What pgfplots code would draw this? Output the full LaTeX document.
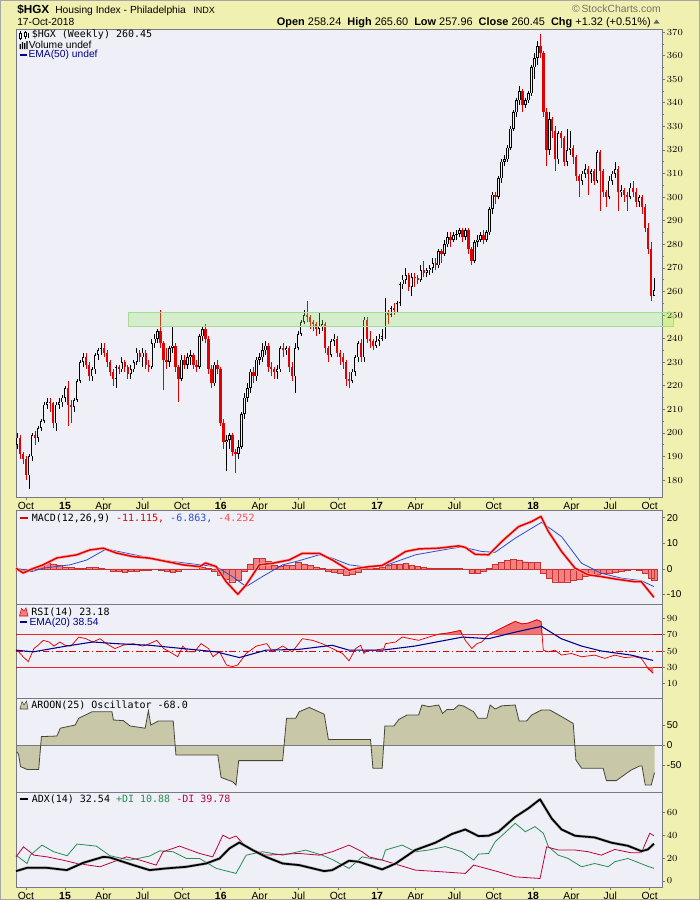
\documentclass[border=0pt]{standalone}
\usepackage{pgfplots}
\pgfplotsset{compat=1.18}
\usepackage{pgfplotstable}
\usepackage{fontspec}
\setmainfont{Liberation Sans}
\newfontfamily\monof{DejaVu Sans Mono}

\definecolor{bgy}{RGB}{240,240,176}
\definecolor{plotbg}{RGB}{239,239,247}
\definecolor{axg}{RGB}{120,120,130}
\definecolor{cred}{RGB}{226,0,0}
\definecolor{zonef}{RGB}{140,235,83}
\definecolor{zoned}{RGB}{165,220,145}
\definecolor{macdblue}{RGB}{40,80,210}
\definecolor{histf}{RGB}{242,130,130}
\definecolor{histd}{RGB}{200,50,50}
\definecolor{rsif}{RGB}{240,115,115}
\definecolor{navy}{RGB}{0,0,140}
\definecolor{arf}{RGB}{200,200,168}
\definecolor{ard}{RGB}{70,70,55}
\definecolor{digreen}{RGB}{40,140,80}
\definecolor{dired}{RGB}{190,0,60}

\pgfplotstableread{
w o h l c
-16 195 200 193 198
-12 182 191 176 190
-11 190 200 188 199
-9 198 203 196 202
-8 202 206 201 205
-7 205 213 204 212
-6 212 215 210 213
-3 204 213 201 212
-2 212 215 210 213
-1 213 216 211 215
0 215 220 213 219
3 211 215 209 214
4 214 223 213 222
5 222 231 221 230
6 230 234 228 232
9 224 228 222 227
10 227 234 225 233
11 233 236 231 235
12 235 238 233 236
17 223 229 219 228
19 227 232 226 230
22 225 229 223 227
23 227 231 226 230
24 230 236 229 234
26 232 236 228 234
29 228 240 227 238
30 238 242 236 240
31 240 244 238 243
35 230 237 228 236
36 236 245 234 237
39 223 233 222 231
41 229 234 227 232
42 232 235 229 233
45 228 242 227 241
46 241 245 239 244
50 221 230 220 229
54 196 199 184 197
55 197 200 193 199
58 191 197 189 194
59 194 209 193 208
60 208 217 206 215
61 215 221 213 219
62 219 227 217 226
64 224 232 222 231
65 231 234 229 232
66 232 238 230 235
67 235 239 233 237
71 226 229 223 227
72 227 237 226 236
74 235 237 233 236
77 224 238 217 236
78 236 243 235 242
79 242 248 241 247
80 247 252 246 250
85 244 251 242 245
86 245 248 243 246
89 233 240 232 239
90 239 242 237 240
96 222 227 221 226
97 226 233 224 232
98 232 239 230 238
100 232 249 230 248
104 237 241 236 239
105 239 242 237 240
106 240 244 239 241
107 241 257 240 251
109 250 254 249 253
111 252 256 251 255
112 255 264 254 263
113 263 267 261 265
114 265 270 263 267
116 262 268 258 266
119 265 271 264 269
121 268 270 266 269
122 269 271 267 270
123 270 274 268 272
125 271 278 270 277
127 276 282 275 280
128 280 285 279 283
130 282 285 281 284
131 284 286 282 284.5
132 284.5 287 283 286
134 283 287 282 286
137 273 282 272 281
138 281 284 279 282
139 282 285 281 284
141 282 286 281 285
142 285 296 284 295
143 295 302 293 301
145 300 309 299 308
146 308 316 306 315
147 315 318 313 316
148 316 322 315 321
149 321 330 320 329
150 329 337 328 336
151 336 342 334 341
152 341 347 339 345
154 339 342 338 341
155 341 345 340 344
156 344 356 343 355
157 355 361 350 359
158 359 366 356 364
162 320 336 318 333
165 316 328 314 327
168 315 329 313 320
169 320 328 318 321
173 307 311 305 310
174 310 314 308 312
176 310 312 306 311
178 307 320 306 319
182 300 309 299 307
183 307 311 305 310
184 310 315 308 312
186 302 305 300 303
189 300 306 299 304
192 298 301 296 300
197 258.24 265.6 257.96 260.45
}\uptab

\pgfplotstableread{
w o h l c
-15 198 199 189 191
-14 191 192 187 189
-13 189 190 180 182
-10 199 201 195 198
-5 213 215 209 212.5
-4 212.5 213 202 204
1 219 222 203 212
2 212 214 204 211
7 232 234 227 229
8 229 230 222 224
13 236 238 232 234
14 234 235 228 230
15 230 231 224 226
16 226 227 220 223
18 228 229 225 227
20 230 231 226 228
21 228 229 223 225
25 234 235 230 232
27 234 235 227 229
28 229 231 226 228
32 243 252 236 238
33 238 239 218 231
34 231 236 227 230
37 237 238 226 228
38 228 229 213 223
40 231 233 227 229
43 233 234 227 229
44 229 231 226 228
47 244 246 238 240
48 240 241 225 227
49 227 229 219 221
51 229 231 225 227
52 227 228 203 204
53 204 206 193 196
56 199 200 190 192
57 192 193 183 191
63 226 228 221 224
68 237 238 226 228
69 228 230 224 227
70 227 228 223 226
73 236 238 232 235
75 236 237 226 228
76 228 230 222 224
81 250 256 247 249
82 249 250 244 247
83 247 248 243 246
84 246 247 241 244
87 246 247 234 236
88 236 237 230 233
91 240 241 232 234
92 234 235 229 232
93 232 234 227 230
94 230 231 220 223
95 223 226 219 222
99 238 240 230 232
101 248 249 238 240
102 240 243 236 239
103 239 240 235 237
108 251 252 246 250
110 253 255 250 252
115 267 268 260 262
117 266 268 262 265.5
118 265.5 267 263 265
120 269 273 266 268
124 272 274 269 271
126 277 278 272 276
129 283 285 279 282
133 286 287 281 283
135 286 287 276 278
136 278 279 271 273
140 284 286 280 282
144 301 302 297 300
153 345 346 336 339
159 364 369 359 361
160 361 362 334 336
161 336 338 313 320
163 333 334 325 328
164 328 330 311 316
166 327 328 321 325
167 325 326 313 315
170 321 322 314 317
171 317 318 307 309
172 309 310 300 307
175 312 313 301 310
177 311 312 305 307
179 319 320 294 311
180 311 312 300 302
181 302 303 296 300
185 312 313 294 302
187 303 304 298 301
188 301 302 294 300
190 304 307 300 302
191 302 304 296 298
193 300 301 293 296
194 296 297 285 287
195 287 289 276 278
196 278 281 256 258
}\dntab

\pgfplotstableread{
w v
-16 51
-14 43
-12.3 37
-10.4 53
-9 57
-7.3 63
-5.3 61
-3.7 56
-1.7 61
0 57
2 56
4.6 67
7 65
9.3 61
11.7 65
13.8 59
16.7 53
19.4 57
22.8 59
26 56
28.3 59
30.7 63
33 53
35 49
37.7 43
39.4 56
41.1 49
43.3 49
45.5 59
48 53
49.5 43
51.7 49
54 33
56 31
57.8 33
60.6 47
64 56
67.5 59
69.4 49
72.8 56
76 49
79.4 65
82.8 63
86 59
89.4 53
92.8 47
95 38
97.2 53
98.9 57
100 47
101 51
103.9 51
106.7 53
107.2 59
110.6 61
112.8 67
115.6 65
118.3 63
121.7 67
125 70.5
128.3 72
132.2 75
133.9 63
136.1 53
137.8 59
139.4 61
141.7 70
143.9 74
147.2 80
150.6 86
152.8 83
155 84
157.8 88
159.2 86
160 51
161.7 49
163.9 51
166.1 45
169.4 47
172.8 43
177.2 45
180.6 41
183.9 45
187.2 42
190.6 43
192.8 41
195 29
196.7 23
}\rsitab

\pgfplotstableread{
w v
-16 -17
-15.5 -25
-14.9 -54
-12.7 -61
-8.8 -61
-7.9 21
-2.7 22.5
-1.6 42
3.4 50
4.6 67
9 83
15.7 83
16.2 62.5
19.5 61
21.8 47.5
26.8 42
27.9 86
28.7 50
31.2 60
36.2 60
37.1 -25
51.1 -25
52.2 -81
56.1 -92
57.2 -100
58.1 -39
72.8 -39
74.1 67
77.2 67
78.3 83
81.7 94
86.7 77
88.1 14
102.2 14
103 -58
106.1 -58
107 47.5
110 47.5
111.7 64
114.4 75
118.3 75
119.4 100
121.7 96
125 100
126.3 79
127.8 89
130 89
131.7 100
133.3 97.5
136.7 83
138.1 67
141.1 67
142.2 100
143.9 90
146.1 98
150.6 100
151.9 60
154.4 60
156.1 75
159.4 87.5
162.2 87.5
166.1 71
170 54
170.9 -37.5
172.8 -58
180 -58
181.1 -89
184.4 -89
189.4 -62.5
192.2 -52.5
193 -52.5
194.1 -100
196.1 -100
197.2 -69
}\arotab

\pgfplotsset{
 panel/.style={
  scale only axis, width=484.5pt, anchor=north west,
  xmin=-16.4, xmax=199.7,
  axis background/.style={fill=plotbg},
  axis line style={draw=axg, line width=0.6pt},
  ytick pos=right, yticklabel pos=right,
  tick align=outside, major tick length=2.5pt, minor tick length=1.2pt,
  tick style={draw=axg, line width=0.5pt},
  yticklabel style={font=\fontsize{7.5}{8}\selectfont, inner sep=1pt},
  xtick=\empty,
 },
 overlay/.style={
  scale only axis, width=484.5pt, anchor=north west,
  xmin=-16.4, xmax=199.7, hide axis, clip=true,
 },
 dates/.style={
  xtick={-13.1,0,12.9,25.9,39.1,52.1,65.1,78.1,91.3,104.4,117.3,130.3,143.4,156.6,169.4,182.4,195.6},
  xticklabels={Oct,\textbf{15},Apr,Jul,Oct,\textbf{16},Apr,Jul,Oct,\textbf{17},Apr,Jul,Oct,\textbf{18},Apr,Jul,Oct},
  xtick pos=bottom,
  xticklabel style={font=\fontsize{7.8}{8}\selectfont, inner sep=1pt},
 },
}

\begin{document}
\begin{tikzpicture}
\fill[bgy] (0,0) rectangle (525pt,-675pt);

% ---------------- main price panel
\begin{axis}[panel, dates, at={(12pt,-21.75pt)}, height=351pt,
  ymin=172.8, ymax=371.3, ytick={180,190,...,370}, minor y tick num=1, clip=false]
 \addplot[draw=none, forget plot, error bars/.cd, y dir=plus, y explicit, error mark=none,
   error bar style={draw=black, line width=0.5pt}]
   table[x=w, y=l, y error expr={\thisrow{h}-\thisrow{l}}] {\uptab};
 \addplot[draw=none, forget plot, error bars/.cd, y dir=plus, y explicit, error mark=none,
   error bar style={draw=black, line width=1.8pt}]
   table[x=w, y=o, y error expr={\thisrow{c}-\thisrow{o}}] {\uptab};
 \addplot[draw=none, forget plot, error bars/.cd, y dir=plus, y explicit, error mark=none,
   error bar style={draw=plotbg, line width=0.6pt}]
   table[x=w, y expr={\thisrow{o}+0.3}, y error expr={max(\thisrow{c}-\thisrow{o}-0.6,0)}] {\uptab};
 \addplot[draw=none, forget plot, error bars/.cd, y dir=plus, y explicit, error mark=none,
   error bar style={draw=cred, line width=0.5pt}]
   table[x=w, y=l, y error expr={\thisrow{h}-\thisrow{l}}] {\dntab};
 \addplot[draw=none, forget plot, error bars/.cd, y dir=plus, y explicit, error mark=none,
   error bar style={draw=cred, line width=1.8pt}]
   table[x=w, y=c, y error expr={\thisrow{o}-\thisrow{c}}] {\dntab};
 \fill[zonef, fill opacity=0.27] (axis cs:21.1,245) rectangle (axis cs:203.4,251);
 \draw[zoned, line width=0.6pt] (axis cs:21.1,245) rectangle (axis cs:203.4,251);
\end{axis}

% ---------------- MACD
\begin{axis}[panel, at={(12pt,-382.5pt)}, height=70.5pt,
  ymin=-13.7, ymax=23, ytick={-10,0,10,20}, yticklabels={-10,0,10,20}]
 \addplot[ybar, bar width=1.9, fill=histf, draw=histd, line width=0.3pt] coordinates {
 (-16,-0.5) (-14,-1.2) (-12,-1.0) (-10,0.5) (-8,1.5) (-6,2.2) (-4,2.0) (-2,1.5) (0,0.8) (2,0.5) (4,0.3) (6,0.3) (8,0.5) (10,0.5) (12,0.3) (14,-0.2) (16,-0.8) (18,-1.0) (20,-1.2) (22,-0.8) (24,-0.8) (26,-0.6) (28,-0.4) (30,-0.2) (32,-0.5) (34,-1.0) (36,-1.2) (38,-0.8) (40,-0.3) (42,-0.2) (44,-0.3) (46,0.6) (48,0.3) (50,-1.0) (52,-2.5) (54,-4.0) (56,-5.0) (58,-4.5) (60,-1.0) (62,2.0) (64,4.0) (66,4.2) (68,3.0) (70,1.5) (72,1.0) (74,1.5) (76,1.5) (78,2.5) (80,2.0) (82,1.5) (84,0.8) (86,0.2) (88,-0.8) (90,-1.2) (92,-1.8) (94,-2.3) (96,-2.2) (98,-1.2) (100,0.3) (102,0.5) (104,0.2) (106,0.6) (108,1.5) (110,1.8) (112,2.0) (114,2.2) (116,1.5) (118,1.0) (120,0.6) (122,0.4) (124,0.3) (126,0.3) (128,0.2) (130,0.3) (132,0.3) (134,-0.3) (136,-1.5) (138,-1.6) (140,-1.0) (142,0.3) (144,1.8) (146,2.5) (148,3.3) (150,3.8) (152,3.5) (154,2.8) (156,2.5) (158,2.5) (160,-1.5) (162,-3.8) (164,-5.0) (166,-5.3) (168,-5.0) (170,-4.5) (172,-4.0) (174,-3.0) (176,-2.5) (178,-2.0) (180,-1.8) (182,-1.5) (184,-1.2) (186,-0.8) (188,-0.5) (190,-0.3) (192,-0.5) (194,-1.5) (196,-3.5) (197,-4.3)};
 \addplot[macdblue, line width=0.6pt] coordinates {
 (-16.4,0.3) (-11,-1) (-7.3,0.3) (1.7,1.6) (7.3,3.5) (13.8,7.8) (22.8,5.6) (33.9,3.2) (45,1.6) (50.6,0.9) (56,-3) (60.6,-6.9) (66,-3) (72.8,1.6) (78.3,3.2) (85,5.5) (89.4,4.2) (95,1.6) (101.7,0.6) (108.3,1.8) (117.2,5.5) (128.3,7.8) (132.8,8.6) (139.4,6.8) (143.9,6.5) (150.6,12) (159.4,18.2) (166.1,12.6) (172.8,2.2) (179.4,-1.7) (186.1,-3.6) (192.8,-4.6) (197,-6.9)};
 \addplot[red!30, line width=2.2pt, line join=round] coordinates {
 (-16.4,0.3) (-14,-1.6) (-11,0) (-7.3,1.6) (-2.7,4.3) (3.9,5.5) (8.3,7.4) (12.8,8.1) (17.2,6.2) (22.8,4.8) (28.3,4.2) (33.9,2.9) (39.4,1.6) (45,0.9) (47,2.3) (50.6,0.9) (53.9,-5) (57.8,-9.9) (60.6,-6.2) (65,1.6) (69.4,2.2) (75,3.5) (79.4,6.1) (85,6.1) (89.4,3.5) (95,-0.5) (98.3,0.3) (101.7,0.9) (106,1.3) (109.4,3.5) (113.9,6.8) (118.3,7.8) (125,8.1) (131.7,9) (133.9,8.4) (137.2,5.7) (141.7,5.5) (146.1,10.7) (151.7,16.5) (156.1,18.5) (159.2,20.5) (161.7,14.6) (166.1,6.8) (170.6,0.3) (175,-2.3) (179.4,-3) (183.9,-3.9) (190.6,-5) (192.8,-5) (195,-8.2) (197,-11.1)};
 \addplot[cred, line width=1.1pt, line join=round] coordinates {
 (-16.4,0.3) (-14,-1.6) (-11,0) (-7.3,1.6) (-2.7,4.3) (3.9,5.5) (8.3,7.4) (12.8,8.1) (17.2,6.2) (22.8,4.8) (28.3,4.2) (33.9,2.9) (39.4,1.6) (45,0.9) (47,2.3) (50.6,0.9) (53.9,-5) (57.8,-9.9) (60.6,-6.2) (65,1.6) (69.4,2.2) (75,3.5) (79.4,6.1) (85,6.1) (89.4,3.5) (95,-0.5) (98.3,0.3) (101.7,0.9) (106,1.3) (109.4,3.5) (113.9,6.8) (118.3,7.8) (125,8.1) (131.7,9) (133.9,8.4) (137.2,5.7) (141.7,5.5) (146.1,10.7) (151.7,16.5) (156.1,18.5) (159.2,20.5) (161.7,14.6) (166.1,6.8) (170.6,0.3) (175,-2.3) (179.4,-3) (183.9,-3.9) (190.6,-5) (192.8,-5) (195,-8.2) (197,-11.1)};
\end{axis}

% ---------------- RSI
\begin{axis}[panel, at={(12pt,-453pt)}, height=70.5pt,
  ymin=-7.3, ymax=107.3, ytick={10,30,50,70,90}]
 \addplot[cred, line width=0.6pt] coordinates {(-16.4,70) (199.7,70)};
 \addplot[cred, line width=0.6pt] coordinates {(-16.4,30) (199.7,30)};
 \addplot[cred, line width=0.6pt, dash pattern=on 5pt off 2pt on 1pt off 2pt] coordinates {(-16.4,50) (199.7,50)};
 \addplot[cred, line width=0.55pt] table[x=w, y=v] {\rsitab};
\end{axis}
% overbought fill (RSI above 70)
\begin{axis}[overlay, at={(12pt,-453pt)}, height=22.95pt, ymin=70, ymax=107.3]
 \addplot[fill=rsif, draw=none] table[x=w, y=v] {\rsitab} \closedcycle;
 \addplot[cred, line width=0.55pt] table[x=w, y=v] {\rsitab};
\end{axis}
% oversold fill (RSI below 30), drawn as 100-RSI on a reversed axis
\begin{axis}[overlay, at={(12pt,-500.55pt)}, height=22.95pt, ymin=70, ymax=107.3, y dir=reverse]
 \addplot[fill=rsif, draw=none] table[x=w, y expr={100-\thisrow{v}}] {\rsitab} \closedcycle;
 \addplot[cred, line width=0.55pt] table[x=w, y expr={100-\thisrow{v}}] {\rsitab};
\end{axis}
\begin{axis}[overlay, at={(12pt,-453pt)}, height=70.5pt, ymin=-7.3, ymax=107.3]
 \addplot[navy, line width=0.8pt] coordinates {
 (-16.4,51) (-10.6,49) (0.4,56) (9.3,61) (17,59) (28.3,57) (39.4,53) (50.6,49) (58.3,42) (67.2,51) (78.3,52) (89.4,57) (95,51) (106,51) (117,56) (133,67) (141.7,65) (150.6,73) (159.4,80) (166,65) (172.8,56) (179.4,50) (189.4,45) (196.7,38.5)};
\end{axis}

% ---------------- Aroon oscillator
\begin{axis}[panel, at={(12pt,-523.5pt)}, height=70.5pt,
  ymin=-117.5, ymax=117.5, ytick={-50,0,50}, yticklabels={-50,0,50}]
 \addplot[fill=arf, draw=none] table[x=w, y=v] {\arotab} \closedcycle;
 \addplot[axg, line width=0.5pt] coordinates {(-16.4,0) (199.7,0)};
 \addplot[ard, line width=0.6pt] table[x=w, y=v] {\arotab};
\end{axis}

% ---------------- ADX
\begin{axis}[panel, dates, at={(12pt,-594pt)}, height=71.25pt,
  ymin=-5.4, ymax=77.8, ytick={0,20,40,60}]
 \addplot[digreen, line width=0.6pt] coordinates {
 (-16.4,22.5) (-12.7,15.2) (-11.6,22.5) (-7.7,31.3) (-3.8,25.5) (0.7,22) (4,32.2) (10.5,30.4) (15,22) (21.7,18.2) (28.3,21.7) (31.7,26.3) (36.1,25.5) (40.6,19.6) (45,19.6) (50.6,10.9) (57.2,6.5) (60.6,22.5) (66,25.5) (72.8,22.5) (80.5,26.9) (86,22.5) (89.4,18.7) (95,10.9) (99.4,21) (102.2,19.6) (106.1,18.2) (107.2,27) (112.8,31.3) (117.2,25.5) (121.7,27) (127.2,30) (132.8,25.5) (136.7,18.2) (138.3,23.4) (141.7,24) (143.9,34.3) (147.2,42.2) (150.6,50.4) (154,43) (157.2,47.5) (160,41.7) (161.7,30) (165,22.5) (168.3,19.6) (172.8,12.3) (177.2,15.2) (181.7,12.3) (183.9,16.7) (188.3,19.6) (195,12.7) (197,10.9)};
 \addplot[dired, line width=0.6pt] coordinates {
 (-16.4,21) (-13.9,29.8) (-10.4,22.5) (-6,21) (-0.8,18.2) (4,15.2) (11.7,12.3) (20.6,21) (25,18.2) (30.5,13.8) (32.8,25.5) (38.3,30.4) (45,24) (49.4,21) (52.8,40) (55,37) (57.2,39.2) (60.6,29.8) (67.2,22.5) (78.3,24) (85,22.5) (89.4,25.5) (95,31.3) (99.4,25.5) (101.7,21) (106.1,18.2) (117.2,9.4) (126.1,7.9) (133.9,6.5) (136.7,13.8) (145,7.9) (150.6,3.5) (158.9,2.05) (161.1,29.8) (165,27) (170.6,27) (175,25.5) (179.4,22.5) (183.9,27.5) (189.4,24.6) (192.8,24.6) (195.6,41.7) (197,39.5)};
 \addplot[gray!60, line width=2.2pt, line join=round] coordinates {
 (-16.4,8.5) (-12.7,11.4) (-6,11.4) (0.6,9.4) (6.1,15.8) (12.8,21) (15,20.5) (22.8,13.8) (28.3,9.4) (33.9,10.9) (40.6,12.3) (47.2,15.2) (51.7,19.6) (55,28.4) (58.3,33.6) (62.8,26.9) (67.2,21) (72.8,15.2) (78.3,13.8) (86.7,8.5) (89.4,9.4) (95,17.6) (98.3,16.7) (106.1,10) (110.6,15.2) (117.2,27) (123.9,33.4) (129.4,41) (133.9,45) (138.3,39.2) (141.7,39.5) (145,43) (150.6,56) (155,63.5) (158.9,71.4) (162.8,54.6) (166.1,45) (170.6,39.5) (177.2,38) (182.8,33.4) (188.3,30.7) (192.8,26) (195,27.5) (197,32.5)};
 \addplot[black, line width=1.3pt, line join=round] coordinates {
 (-16.4,8.5) (-12.7,11.4) (-6,11.4) (0.6,9.4) (6.1,15.8) (12.8,21) (15,20.5) (22.8,13.8) (28.3,9.4) (33.9,10.9) (40.6,12.3) (47.2,15.2) (51.7,19.6) (55,28.4) (58.3,33.6) (62.8,26.9) (67.2,21) (72.8,15.2) (78.3,13.8) (86.7,8.5) (89.4,9.4) (95,17.6) (98.3,16.7) (106.1,10) (110.6,15.2) (117.2,27) (123.9,33.4) (129.4,41) (133.9,45) (138.3,39.2) (141.7,39.5) (145,43) (150.6,56) (155,63.5) (158.9,71.4) (162.8,54.6) (166.1,45) (170.6,39.5) (177.2,38) (182.8,33.4) (188.3,30.7) (192.8,26) (195,27.5) (197,32.5)};
\end{axis}

% ---------------- texts
\begin{scope}[x=0.75pt,y=-0.75pt]
 \node[anchor=base west, inner sep=0, font=\fontsize{8.8}{9}\selectfont\bfseries] at (17,13.5) {\$HGX};
 \node[anchor=base west, inner sep=0, font=\fontsize{7.7}{8}\selectfont] at (55,13.5) {Housing Index - Philadelphia};
 \node[anchor=base west, inner sep=0, font=\fontsize{6.8}{7}\selectfont] at (193,13.5) {INDX};
 \node[anchor=base west, inner sep=0, font=\fontsize{7.7}{8}\selectfont] at (17,25.5) {17-Oct-2018};
 \node[anchor=base east, inner sep=0, font=\fontsize{8.2}{9}\selectfont] at (651,25.5)
   {\textbf{Open} 258.24\ \ \textbf{High} 265.60\ \ \textbf{Low} 257.96\ \ \textbf{Close} 260.45\ \ \textbf{Chg} +1.32 (+0.51\%)};
 \fill[gray!80!black] (653.5,23.5) -- (659.5,23.5) -- (656.5,19.5) -- cycle;
 \node[anchor=base east, inner sep=0, font=\fontsize{7.8}{8}\selectfont, text=gray!90!black] at (661,12.5) {\textcopyright\,StockCharts.com};
 % main legend
 \draw[black, line width=0.5pt] (20.5,31) -- (20.5,40) (25,30.5) -- (25,39);
 \draw[black, fill=white, line width=0.5pt] (19.5,33) rectangle (21.5,38) (24,32) rectangle (26,36);
 \fill[black] (27.5,33) rectangle (29,38);
 \node[anchor=west, inner sep=0, font=\monof\fontsize{7.5}{8}\selectfont] at (31.5,35.2) {\$HGX (Weekly) 260.45};
 \fill[black] (19.5,44) rectangle (20.8,49) (21.8,42) rectangle (23.1,49) (24.1,43) rectangle (25.4,49) (26.4,41) rectangle (27.7,49);
 \node[anchor=west, inner sep=0, font=\fontsize{7.7}{8}\selectfont] at (28.5,45.3) {Volume undef};
 \draw[navy, line width=1.3pt] (19.5,55) -- (27,55);
 \node[anchor=west, inner sep=0, font=\fontsize{7.7}{8}\selectfont, text=navy] at (28.3,55.3) {EMA(50) undef};
 % MACD legend
 \draw[cred, line width=1.5pt] (19.5,517.7) -- (27.5,517.7);
 \node[anchor=west, inner sep=0, font=\monof\fontsize{7.5}{8}\selectfont] at (31.5,517.9)
   {MACD(12,26,9) \textcolor{cred}{-11.115,} \textcolor{macdblue}{-6.863,} \textcolor{red!70}{-4.252}};
 % RSI legend
 \fill[histf, draw=cred, line width=0.4pt] (19.5,616) -- (21.5,608.5) -- (24,611) -- (26,608) -- (28,616) -- cycle;
 \node[anchor=west, inner sep=0, font=\monof\fontsize{7.5}{8}\selectfont] at (31,611.9) {RSI(14) 23.18};
 \draw[navy, line width=1.3pt] (19.5,622.3) -- (27,622.3);
 \node[anchor=west, inner sep=0, font=\fontsize{7.7}{8}\selectfont, text=navy] at (29.3,622.5) {EMA(20) 38.54};
 % Aroon legend
 \fill[arf, draw=ard, line width=0.4pt] (20,709) -- (22,701.5) -- (24,705) -- (26.5,701) -- (28,709) -- cycle;
 \node[anchor=west, inner sep=0, font=\monof\fontsize{7.5}{8}\selectfont] at (31,705.2) {AROON(25) Oscillator -68.0};
 % ADX legend
 \draw[black, line width=1.5pt] (19.5,799.3) -- (27.5,799.3);
 \node[anchor=west, inner sep=0, font=\monof\fontsize{7.5}{8}\selectfont] at (31.5,799.5)
   {ADX(14) 32.54 \textcolor{digreen}{+DI 10.88} \textcolor{dired}{-DI 39.78}};
 \draw[gray!70, line width=0.5pt] (0.3,0.3) rectangle (699.7,899.7);
\end{scope}
\pgfresetboundingbox
\path (0,0) rectangle (525pt,-675pt);
\end{tikzpicture}
\end{document}
